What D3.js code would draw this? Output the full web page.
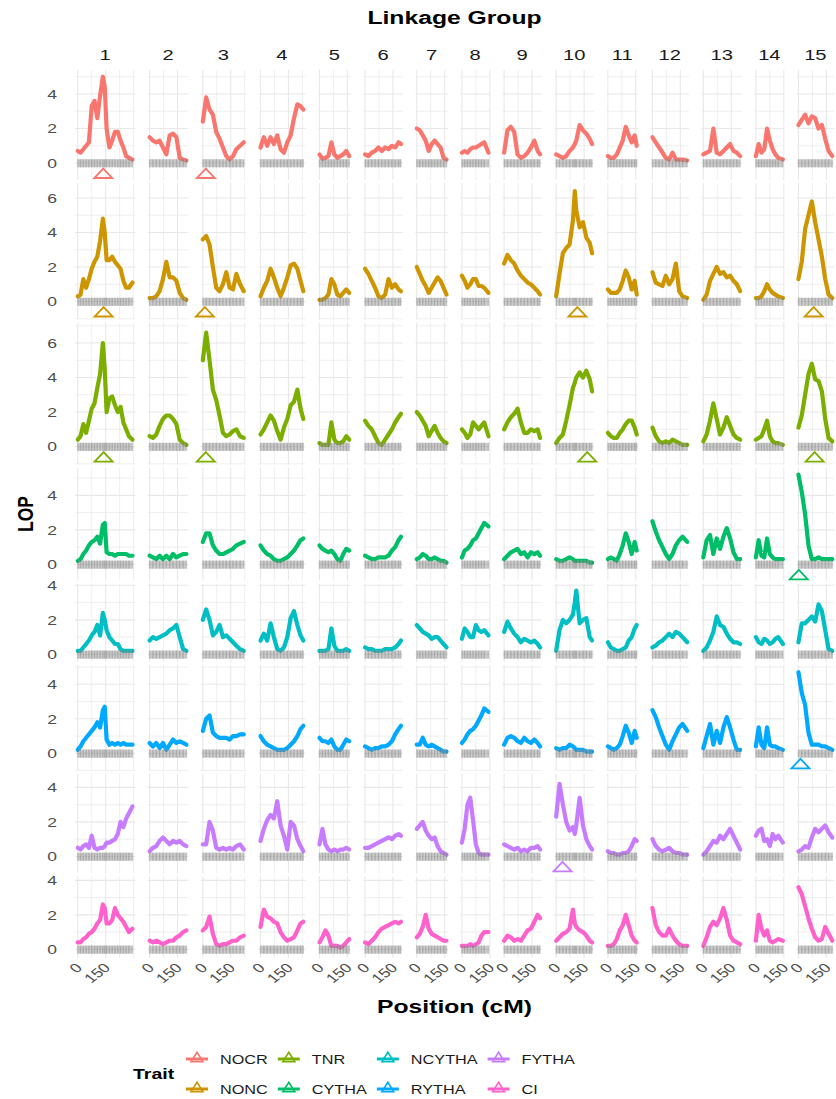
<!DOCTYPE html>
<html>
<head>
<meta charset="utf-8">
<script src="https://cdn.jsdelivr.net/npm/d3@7"></script>
<style>
  body { margin: 0; background: #fff; }
  text { font-family: "Liberation Sans", Arial, Helvetica, sans-serif; }
</style>
</head>
<body>
<svg id="chart" width="836" height="1099"></svg>
<script>
/* Data Setup */
const traits = ['NOCR', 'NONC', 'TNR', 'CYTHA', 'NCYTHA', 'RYTHA', 'FYTHA', 'CI'];
const traitColors = ['#F8766D', '#CD9600', '#7CAE00', '#00BE67', '#00BFC4', '#00A9FF', '#C77CFF', '#FF61CC'];
const lgNames = ['1', '2', '3', '4', '5', '6', '7', '8', '9', '10', '11', '12', '13', '14', '15'];
const lgLength = [294, 198, 220, 230, 160, 193, 160, 143, 193, 193, 155, 187, 198, 145, 182];

/* Marker positions (cM) per linkage group, shared by every trait */
const markerPos = [
    [0, 15, 30, 45, 60, 75, 90, 105, 120, 135, 145, 155, 170, 185, 200, 215, 230, 245, 260, 275, 294],
    [0, 18, 36, 54, 72, 90, 108, 126, 144, 162, 180, 198],
    [0, 18, 36, 54, 72, 90, 108, 126, 144, 162, 180, 200, 220],
    [0, 18, 36, 54, 72, 90, 108, 126, 144, 162, 180, 198, 215, 230],
    [0, 16, 32, 48, 64, 80, 96, 112, 128, 144, 160],
    [0, 18, 36, 54, 72, 90, 108, 126, 144, 162, 180, 193],
    [0, 16, 32, 48, 64, 80, 96, 112, 128, 144, 160],
    [0, 15, 30, 45, 60, 75, 90, 105, 120, 143],
    [0, 18, 36, 54, 72, 90, 108, 126, 144, 162, 180, 193],
    [0, 18, 36, 54, 72, 90, 100, 108, 126, 144, 162, 180, 193],
    [0, 16, 32, 48, 64, 80, 96, 112, 128, 144, 155],
    [0, 18, 36, 54, 72, 90, 108, 126, 144, 162, 187],
    [0, 18, 36, 54, 72, 90, 108, 126, 144, 162, 180, 198],
    [0, 15, 30, 45, 60, 75, 90, 105, 120, 145],
    [0, 18, 36, 54, 72, 90, 108, 126, 144, 162, 182]
];

/* LOP profiles, one list per linkage group */
const lodNOCR = [
    [0.7, 0.6, 0.8, 1.0, 1.2, 3.3, 3.6, 2.6, 3.9, 5.0, 4.4, 2.0, 0.9, 1.3, 1.8, 1.8, 1.3, 0.9, 0.4, 0.3, 0.2],
    [1.5, 1.3, 1.2, 1.3, 0.9, 0.5, 1.6, 1.7, 1.5, 0.3, 0.2, 0.15],
    [2.4, 3.8, 3.1, 2.8, 1.8, 1.4, 0.9, 0.4, 0.2, 0.4, 0.8, 1.0, 1.2],
    [0.9, 1.5, 1.0, 1.5, 1.1, 1.6, 0.8, 0.6, 1.2, 1.6, 2.6, 3.4, 3.3, 3.1],
    [0.5, 0.25, 0.3, 0.4, 1.2, 0.5, 0.3, 0.4, 0.5, 0.7, 0.4],
    [0.5, 0.4, 0.6, 0.7, 0.9, 0.7, 0.9, 0.8, 1.0, 0.9, 1.2, 1.1],
    [2.0, 1.9, 1.6, 1.3, 0.7, 1.1, 1.3, 1.1, 0.9, 0.3, 0.2],
    [0.6, 0.7, 0.6, 0.8, 0.9, 0.9, 1.0, 1.1, 1.2, 0.6],
    [0.6, 1.9, 2.1, 1.8, 0.5, 0.3, 0.4, 0.6, 0.9, 1.3, 0.7, 0.5],
    [0.5, 0.4, 0.3, 0.4, 0.7, 0.9, 1.1, 1.3, 2.2, 1.9, 1.7, 1.4, 1.1],
    [0.4, 0.3, 0.3, 0.5, 0.9, 1.3, 2.1, 1.6, 1.2, 1.6, 1.0],
    [1.5, 1.2, 0.9, 0.6, 0.3, 0.2, 0.6, 0.2, 0.2, 0.2, 0.15],
    [0.5, 0.6, 0.7, 2.0, 0.6, 0.5, 0.7, 0.9, 1.1, 0.7, 0.6, 0.4],
    [0.4, 1.1, 0.6, 0.8, 2.0, 1.3, 0.8, 0.5, 0.3, 0.2],
    [2.2, 2.5, 2.8, 2.3, 2.7, 2.6, 2.0, 2.2, 1.4, 0.7, 0.4]
];
const lodNONC = [
    [0.3, 0.4, 1.3, 0.8, 1.3, 1.9, 2.3, 2.6, 3.5, 4.8, 4.0, 2.4, 2.4, 2.6, 2.3, 2.1, 1.9, 1.2, 0.8, 0.8, 1.1],
    [0.2, 0.2, 0.3, 0.6, 1.3, 2.3, 1.4, 1.4, 1.2, 0.5, 0.2, 0.1],
    [3.6, 3.8, 3.3, 2.0, 0.8, 0.6, 1.0, 1.7, 0.8, 0.7, 1.6, 1.0, 0.6],
    [0.3, 0.8, 1.2, 1.9, 1.4, 0.8, 0.3, 0.8, 1.4, 2.1, 2.2, 1.9, 1.2, 0.6],
    [0.1, 0.1, 0.2, 0.4, 1.3, 1.0, 0.4, 0.3, 0.5, 0.7, 0.5],
    [1.9, 1.6, 1.2, 0.8, 0.3, 0.2, 0.4, 1.3, 0.8, 1.0, 0.7, 0.6],
    [2.0, 1.6, 1.2, 0.9, 0.5, 0.8, 1.1, 1.4, 1.2, 0.8, 0.4],
    [1.5, 1.2, 0.8, 1.0, 1.3, 1.3, 0.9, 0.9, 0.8, 0.5],
    [2.2, 2.7, 2.4, 2.2, 1.8, 1.5, 1.3, 1.1, 1.0, 0.8, 0.6, 0.4],
    [0.3, 1.6, 2.8, 3.1, 3.3, 4.7, 6.4, 5.3, 4.3, 4.6, 3.7, 3.4, 2.8],
    [0.7, 0.5, 0.5, 0.5, 0.7, 1.2, 1.8, 1.4, 0.7, 1.2, 0.4],
    [1.7, 1.1, 1.0, 0.9, 1.5, 1.0, 1.3, 2.2, 0.6, 0.3, 0.2],
    [0.1, 0.4, 1.2, 1.6, 2.0, 1.6, 1.7, 1.4, 1.5, 1.2, 1.0, 0.6],
    [0.2, 0.2, 0.3, 0.6, 1.0, 0.7, 0.5, 0.4, 0.3, 0.2],
    [1.3, 2.3, 4.2, 5.0, 5.8, 4.6, 3.6, 2.6, 1.3, 0.4, 0.2]
];
const lodTNR = [
    [0.4, 0.6, 1.3, 0.8, 1.5, 2.2, 2.5, 3.4, 4.2, 6.0, 4.5, 2.0, 2.8, 2.9, 2.4, 2.0, 2.3, 1.4, 1.0, 0.6, 0.4],
    [0.6, 0.5, 0.7, 1.2, 1.6, 1.8, 1.8, 1.6, 1.3, 0.4, 0.2, 0.1],
    [5.0, 6.6, 5.0, 3.3, 2.7, 1.8, 0.8, 0.6, 0.7, 0.9, 1.0, 0.6, 0.5],
    [0.7, 1.0, 1.4, 1.8, 1.5, 0.9, 0.4, 1.1, 1.6, 2.4, 2.6, 3.3, 2.2, 1.6],
    [0.2, 0.1, 0.1, 0.1, 1.4, 0.4, 0.2, 0.2, 0.3, 0.6, 0.4],
    [1.5, 1.2, 1.0, 0.6, 0.2, 0.1, 0.4, 0.7, 1.0, 1.4, 1.7, 1.9],
    [2.0, 1.8, 1.5, 1.2, 0.6, 0.9, 1.2, 0.8, 0.5, 0.3, 0.2],
    [1.0, 0.8, 0.5, 0.7, 1.4, 1.2, 1.0, 1.2, 1.4, 0.6],
    [1.0, 1.4, 1.7, 1.9, 2.2, 1.4, 0.8, 0.8, 1.0, 0.9, 1.0, 0.5],
    [0.2, 0.5, 0.7, 1.5, 2.4, 3.4, 3.7, 4.0, 4.3, 4.0, 4.4, 3.9, 3.2],
    [0.8, 0.6, 0.5, 0.5, 0.8, 1.0, 1.3, 1.5, 1.5, 1.1, 0.7],
    [1.1, 0.6, 0.3, 0.2, 0.3, 0.2, 0.4, 0.3, 0.2, 0.1, 0.1],
    [0.3, 0.7, 1.5, 2.5, 1.6, 0.7, 1.1, 1.7, 1.2, 0.7, 0.5, 0.4],
    [0.4, 0.5, 0.6, 1.0, 1.5, 0.6, 0.3, 0.2, 0.2, 0.1],
    [1.1, 1.8, 3.0, 4.2, 4.8, 3.9, 3.8, 3.2, 1.6, 0.5, 0.3]
];
const lodCYTHA = [
    [0.2, 0.3, 0.6, 0.8, 1.1, 1.3, 1.4, 1.6, 1.2, 2.3, 2.4, 0.7, 0.6, 0.6, 0.5, 0.6, 0.6, 0.6, 0.6, 0.5, 0.5],
    [0.5, 0.4, 0.3, 0.5, 0.3, 0.5, 0.3, 0.6, 0.4, 0.5, 0.6, 0.6],
    [1.3, 1.8, 1.8, 1.1, 0.8, 0.6, 0.6, 0.7, 0.8, 0.9, 1.1, 1.2, 1.3],
    [1.1, 0.8, 0.6, 0.5, 0.3, 0.2, 0.2, 0.3, 0.4, 0.6, 0.8, 1.1, 1.4, 1.5],
    [1.1, 0.9, 0.8, 0.7, 0.8, 0.6, 0.3, 0.2, 0.6, 0.9, 0.8],
    [0.5, 0.4, 0.3, 0.3, 0.4, 0.4, 0.4, 0.5, 0.8, 1.0, 1.4, 1.6],
    [0.3, 0.4, 0.6, 0.5, 0.3, 0.3, 0.4, 0.3, 0.2, 0.2, 0.1],
    [0.4, 0.8, 0.9, 1.1, 1.4, 1.5, 1.8, 2.1, 2.4, 2.2],
    [0.3, 0.5, 0.7, 0.8, 0.9, 0.6, 0.7, 0.4, 0.7, 0.6, 0.7, 0.5],
    [0.3, 0.2, 0.2, 0.3, 0.4, 0.3, 0.2, 0.2, 0.2, 0.2, 0.2, 0.1, 0.1],
    [0.3, 0.4, 0.3, 0.2, 0.6, 1.1, 1.8, 1.3, 0.6, 1.3, 0.8],
    [2.5, 1.9, 1.4, 1.0, 0.6, 0.3, 0.6, 1.1, 1.4, 1.6, 1.3],
    [0.4, 1.4, 1.7, 0.6, 1.5, 0.9, 1.6, 2.1, 1.5, 0.7, 0.3, 0.3],
    [0.4, 1.4, 0.5, 0.4, 1.5, 0.6, 0.4, 0.3, 0.3, 0.3],
    [5.2, 4.2, 2.9, 1.1, 0.3, 0.3, 0.4, 0.3, 0.3, 0.3, 0.3]
];
const lodNCYTHA = [
    [0.2, 0.2, 0.4, 0.6, 0.8, 1.1, 1.3, 1.7, 1.1, 2.4, 2.0, 1.4, 1.0, 0.8, 0.6, 0.6, 0.3, 0.2, 0.2, 0.2, 0.2],
    [0.8, 1.0, 0.9, 1.0, 1.1, 1.2, 1.4, 1.5, 1.7, 1.0, 0.3, 0.2],
    [2.0, 2.6, 2.0, 1.1, 1.3, 1.7, 1.0, 1.1, 0.9, 0.7, 0.5, 0.3, 0.2],
    [0.8, 1.2, 0.8, 1.8, 1.0, 0.3, 0.2, 0.4, 1.0, 2.1, 2.5, 1.7, 1.1, 0.8],
    [0.2, 0.2, 0.2, 0.3, 1.5, 0.5, 0.2, 0.2, 0.2, 0.3, 0.2],
    [0.4, 0.3, 0.3, 0.2, 0.2, 0.2, 0.3, 0.3, 0.3, 0.4, 0.6, 0.8],
    [1.7, 1.5, 1.3, 1.2, 1.1, 0.9, 1.0, 1.0, 0.8, 0.6, 0.4],
    [0.9, 1.5, 1.3, 1.0, 1.0, 1.7, 1.4, 1.3, 1.4, 1.1],
    [1.3, 1.9, 1.5, 1.2, 1.0, 0.7, 0.9, 0.8, 0.7, 0.8, 0.6, 0.4],
    [0.2, 1.4, 2.0, 1.8, 2.0, 2.3, 3.0, 3.7, 1.8, 2.0, 2.1, 1.0, 0.8],
    [0.7, 0.4, 0.3, 0.2, 0.2, 0.3, 0.4, 0.8, 1.0, 1.5, 1.7],
    [0.4, 0.5, 0.7, 0.8, 1.0, 1.2, 1.0, 1.3, 1.2, 1.0, 0.7],
    [0.2, 0.4, 0.8, 1.3, 2.2, 1.7, 1.6, 1.2, 0.9, 0.7, 0.7, 0.6],
    [1.0, 0.7, 0.6, 0.9, 0.8, 0.6, 0.7, 0.9, 1.0, 0.6],
    [0.7, 1.8, 1.8, 2.0, 2.2, 1.9, 2.9, 2.5, 1.4, 0.3, 0.2]
];
const lodRYTHA = [
    [0.2, 0.4, 0.7, 0.9, 1.1, 1.3, 1.5, 1.8, 1.5, 2.5, 2.7, 0.8, 0.5, 0.6, 0.5, 0.6, 0.5, 0.6, 0.5, 0.5, 0.5],
    [0.6, 0.4, 0.6, 0.3, 0.6, 0.2, 0.5, 0.8, 0.6, 0.7, 0.6, 0.5],
    [1.3, 2.0, 2.2, 1.2, 1.0, 0.9, 0.9, 0.9, 0.8, 1.0, 1.0, 1.1, 1.1],
    [1.0, 0.7, 0.5, 0.4, 0.3, 0.2, 0.2, 0.2, 0.3, 0.5, 0.7, 1.0, 1.4, 1.6],
    [0.9, 0.7, 0.7, 0.6, 0.8, 0.4, 0.2, 0.2, 0.5, 0.8, 0.7],
    [0.4, 0.3, 0.2, 0.3, 0.3, 0.4, 0.4, 0.5, 0.7, 1.1, 1.4, 1.6],
    [0.5, 0.5, 0.9, 0.5, 0.4, 0.5, 0.4, 0.3, 0.2, 0.1, 0.1],
    [0.6, 0.8, 1.1, 1.3, 1.4, 1.6, 1.9, 2.2, 2.6, 2.4],
    [0.5, 0.9, 1.0, 0.9, 0.7, 0.6, 0.9, 0.7, 0.6, 0.8, 0.6, 0.4],
    [0.3, 0.2, 0.3, 0.3, 0.5, 0.4, 0.3, 0.2, 0.2, 0.2, 0.1, 0.1, 0.1],
    [0.4, 0.3, 0.2, 0.3, 0.5, 1.0, 1.6, 1.2, 0.6, 1.3, 0.9],
    [2.5, 2.1, 1.5, 1.0, 0.5, 0.2, 0.7, 1.1, 1.5, 1.7, 1.3],
    [0.3, 1.0, 1.7, 0.5, 1.3, 0.6, 1.5, 2.1, 1.5, 0.8, 0.2, 0.2],
    [0.4, 1.5, 0.5, 0.3, 1.5, 0.5, 0.4, 0.4, 0.3, 0.2],
    [4.7, 3.5, 2.8, 1.2, 0.5, 0.5, 0.5, 0.4, 0.4, 0.3, 0.2]
];
const lodFYTHA = [
    [0.5, 0.4, 0.6, 0.7, 0.5, 1.2, 0.5, 0.4, 0.5, 0.5, 0.6, 0.8, 0.8, 0.9, 1.0, 1.3, 2.0, 1.7, 2.2, 2.5, 2.9],
    [0.3, 0.5, 0.6, 0.9, 1.1, 0.9, 0.7, 0.9, 0.8, 0.9, 0.7, 0.6],
    [0.7, 0.7, 2.0, 1.5, 0.5, 0.4, 0.5, 0.4, 0.5, 0.4, 0.6, 0.7, 0.4],
    [0.9, 1.6, 2.1, 2.4, 2.2, 3.2, 1.8, 1.2, 0.4, 2.0, 1.8, 1.0, 0.6, 0.3],
    [0.7, 1.6, 0.7, 0.4, 0.3, 0.4, 0.3, 0.4, 0.4, 0.5, 0.4],
    [0.5, 0.5, 0.6, 0.7, 0.8, 0.9, 1.0, 1.1, 1.0, 1.2, 1.3, 1.2],
    [1.6, 1.8, 2.0, 1.5, 1.2, 1.0, 1.1, 0.6, 0.3, 0.2, 0.1],
    [0.8, 1.6, 3.0, 3.4, 2.1, 0.7, 0.2, 0.1, 0.1, 0.1],
    [0.7, 0.6, 0.5, 0.4, 0.5, 0.3, 0.4, 0.3, 0.5, 0.5, 0.6, 0.4],
    [2.3, 4.2, 3.0, 2.0, 1.5, 1.7, 1.3, 1.8, 3.4, 1.8, 1.0, 0.6, 0.4],
    [0.3, 0.2, 0.2, 0.1, 0.1, 0.2, 0.2, 0.3, 0.6, 1.0, 0.9],
    [1.0, 0.6, 0.4, 0.3, 0.4, 0.5, 0.3, 0.2, 0.2, 0.1, 0.1],
    [0.1, 0.3, 0.6, 0.9, 0.8, 1.2, 1.0, 1.3, 1.6, 1.2, 0.8, 0.4],
    [1.2, 1.5, 1.6, 0.9, 1.0, 0.6, 1.3, 1.0, 1.2, 0.8],
    [0.3, 0.4, 0.6, 0.5, 1.1, 1.6, 1.4, 1.6, 1.8, 1.4, 1.1]
];
const lodCI = [
    [0.4, 0.4, 0.6, 0.7, 0.9, 1.0, 1.2, 1.5, 1.7, 2.6, 2.4, 1.5, 1.5, 1.7, 2.4, 2.0, 1.8, 1.6, 1.3, 1.0, 1.2],
    [0.5, 0.4, 0.5, 0.4, 0.3, 0.4, 0.5, 0.5, 0.7, 0.8, 1.0, 1.1],
    [1.1, 1.3, 1.9, 0.9, 0.3, 0.2, 0.3, 0.3, 0.4, 0.5, 0.5, 0.7, 0.8],
    [1.3, 2.3, 1.9, 1.8, 1.6, 1.5, 1.0, 0.7, 0.5, 0.6, 0.7, 1.1, 1.5, 1.6],
    [0.4, 0.7, 1.1, 0.8, 0.2, 0.2, 0.2, 0.1, 0.2, 0.4, 0.6],
    [0.4, 0.3, 0.5, 0.7, 1.0, 1.2, 1.3, 1.4, 1.5, 1.6, 1.5, 1.6],
    [0.7, 0.9, 1.3, 2.0, 1.2, 0.9, 0.8, 0.7, 0.6, 0.5, 0.5],
    [0.2, 0.2, 0.2, 0.3, 0.2, 0.3, 0.4, 0.8, 1.0, 1.0],
    [0.5, 0.8, 0.7, 0.5, 0.6, 0.5, 0.8, 1.1, 1.2, 1.6, 2.0, 1.8],
    [0.5, 0.7, 0.9, 1.0, 1.2, 2.3, 1.5, 1.3, 1.1, 1.0, 0.8, 0.5, 0.4],
    [0.2, 0.2, 0.3, 0.6, 1.1, 1.4, 2.0, 1.4, 0.8, 0.5, 0.4],
    [2.4, 1.4, 1.0, 0.8, 0.8, 1.2, 0.8, 0.5, 0.3, 0.2, 0.2],
    [0.2, 0.7, 1.3, 1.6, 1.4, 1.8, 2.4, 1.7, 0.8, 0.5, 0.4, 0.3],
    [0.5, 2.0, 1.2, 0.8, 1.1, 0.5, 0.4, 0.5, 0.6, 0.5],
    [3.6, 3.2, 2.5, 1.8, 1.2, 0.7, 0.5, 0.6, 1.3, 0.9, 0.5]
];

/* QTL peaks as [linkage group, position cM] */
const qtlNOCR = [[1, 137], [3, 16]];
const qtlNONC = [[1, 139], [3, 11], [10, 114], [15, 82]];
const qtlTNR = [[1, 139], [3, 16], [10, 167], [15, 87]];
const qtlCYTHA = [[15, 2]];
const qtlNCYTHA = [];
const qtlRYTHA = [[15, 11]];
const qtlFYTHA = [[10, 34]];
const qtlCI = [];
const qtlLevel = -0.62;

/* Axis settings */
const yLimits = [[-0.99, 5.39], [-1.03, 6.86], [-1.05, 7.2], [-0.95, 5.6], [-0.45, 4.09], [-1.0, 5.11], [-0.98, 4.8], [-0.5, 4.23]];
const yTicks = [0, 2, 4, 6];
const yGrid = [-1, 0, 1, 2, 3, 4, 5, 6, 7];
const xTicks = [0, 150];
const xGrid = [0, 75, 150, 225, 300];

const lodByTrait = [lodNOCR, lodNONC, lodTNR, lodCYTHA, lodNCYTHA, lodRYTHA, lodFYTHA, lodCI];
const qtlByTrait = [qtlNOCR, qtlNONC, qtlTNR, qtlCYTHA, qtlNCYTHA, qtlRYTHA, qtlFYTHA, qtlCI];


/* Layout */
const plotLeft = 75, plotRight = 834, plotTop = 70, plotBottom = 958;
const gapX = 12.5, gapY = 3;
const expand = 0.05;
const sx = 1.3; /* the figure is horizontally stretched, text too */

const svg = d3.select("#chart");

/* One x scale per linkage group, widths follow group length */
const spans = lgLength.map(L => L * (1 + 2 * expand));
const kx = (plotRight - plotLeft - gapX * (lgLength.length - 1)) / d3.sum(spans);
let cursorX = plotLeft;
const xScales = lgLength.map((L, j) => {
    const s = d3.scaleLinear()
        .domain([-expand * L, (1 + expand) * L])
        .range([cursorX, cursorX + spans[j] * kx]);
    cursorX += spans[j] * kx + gapX;
    return s;
});

/* One y scale per trait row, heights follow the LOP range */
const ky = (plotBottom - plotTop - gapY * (traits.length - 1)) / d3.sum(yLimits, d => d[1] - d[0]);
let cursorY = plotTop;
const yScales = yLimits.map(d => {
    const h = (d[1] - d[0]) * ky;
    const s = d3.scaleLinear().domain(d).range([cursorY + h, cursorY]);
    cursorY += h + gapY;
    return s;
});

const inside = (v, dom) => v >= dom[0] && v <= dom[1];

/* Text helper, stretched like the original picture */
function addText(parent, x, y, str, rot) {
    return parent.append("text")
        .attr("transform", `translate(${x},${y}) scale(${sx},1)` + (rot ? ` rotate(${rot})` : ""))
        .text(str);
}

/* Grid lines */
const grid = svg.append("g");
yScales.forEach((y, i) => {
    xScales.forEach((x, j) => {
        const [x0, x1] = x.range();
        const [y1, y0] = y.range();
        xGrid.filter(v => inside(v, x.domain())).forEach(v => {
            grid.append("line")
                .attr("x1", x(v)).attr("x2", x(v))
                .attr("y1", y0).attr("y2", y1)
                .attr("stroke", "#e8e8e8")
                .attr("stroke-width", xTicks.includes(v) ? 1.1 : 0.7);
        });
        yGrid.filter(v => inside(v, y.domain())).forEach(v => {
            grid.append("line")
                .attr("x1", x0).attr("x2", x1)
                .attr("y1", y(v)).attr("y2", y(v))
                .attr("stroke", "#e8e8e8")
                .attr("stroke-width", v % 2 === 0 ? 1.1 : 0.7);
        });
    });
});

/* LOP profile lines */
const lines = svg.append("g");
traits.forEach((t, i) => {
    lgLength.forEach((L, j) => {
        const pts = markerPos[j].map((p, k) => [p, lodByTrait[i][j][k]]);
        const lineGen = d3.line()
            .x(d => xScales[j](d[0]))
            .y(d => yScales[i](d[1]));
        lines.append("path")
            .datum(pts)
            .attr("d", lineGen)
            .attr("fill", "none")
            .attr("stroke", traitColors[i])
            .attr("stroke-width", 4.2)
            .attr("stroke-linejoin", "round")
            .attr("stroke-linecap", "round");
    });
});

/* Marker rug along zero */
const rug = svg.append("g");
yScales.forEach((y, i) => {
    xScales.forEach((x, j) => {
        rug.append("rect")
            .attr("x", x(0)).attr("width", x(lgLength[j]) - x(0))
            .attr("y", y(0.22)).attr("height", y(-0.25) - y(0.22))
            .attr("fill", "#9a9a9a").attr("opacity", 0.5);
        rug.selectAll(null)
            .data(markerPos[j])
            .join("line")
            .attr("x1", d => x(d)).attr("x2", d => x(d))
            .attr("y1", y(0.22)).attr("y2", y(-0.25))
            .attr("stroke", "#444").attr("stroke-opacity", 0.22)
            .attr("stroke-width", 1.4);
    });
});

/* QTL triangles */
const tri = (cx, cy, w, h) => `M${cx},${cy - h * 0.55}L${cx + w / 2},${cy + h * 0.45}L${cx - w / 2},${cy + h * 0.45}Z`;
const marks = svg.append("g");
qtlByTrait.forEach((list, i) => {
    marks.selectAll(null)
        .data(list)
        .join("path")
        .attr("d", d => tri(xScales[d[0] - 1](d[1]), yScales[i](qtlLevel), 18, 9.5))
        .attr("fill", "none")
        .attr("stroke", traitColors[i])
        .attr("stroke-width", 1.8);
});

/* Strip labels (linkage groups) */
const strips = svg.append("g")
    .attr("font-size", 15.5)
    .attr("fill", "#1a1a1a")
    .attr("text-anchor", "middle");
xScales.forEach((x, j) => {
    const r = x.range();
    addText(strips, (r[0] + r[1]) / 2, 60, lgNames[j]);
});

/* Y tick labels */
const yAxisG = svg.append("g")
    .attr("font-size", 13.5)
    .attr("fill", "#4d4d4d")
    .attr("text-anchor", "end");
yScales.forEach(y => {
    yTicks.filter(v => inside(v, y.domain())).forEach(v => {
        addText(yAxisG, 57, y(v), v).attr("dy", "0.36em");
    });
});

/* X tick labels, rotated */
const xAxisG = svg.append("g")
    .attr("font-size", 13)
    .attr("fill", "#4d4d4d")
    .attr("text-anchor", "end");
xScales.forEach(x => {
    xTicks.filter(v => inside(v, x.domain())).forEach(v => {
        addText(xAxisG, x(v) - 3, 962, v, -45).attr("dy", "0.71em");
    });
});

/* Titles */
const titles = svg.append("g")
    .attr("font-weight", "bold")
    .attr("fill", "#000")
    .attr("text-anchor", "middle");
addText(titles, (plotLeft + plotRight) / 2, 24, "Linkage Group").attr("font-size", 19);
addText(titles, (plotLeft + plotRight) / 2, 1013, "Position (cM)").attr("font-size", 19);
addText(titles, 33, (plotTop + plotBottom) / 2, "LOP", -90).attr("font-size", 17.5);

/* Legend */
const legend = svg.append("g");
addText(legend, 133, 1074, "Trait")
    .attr("font-size", 15)
    .attr("font-weight", "bold")
    .attr("dy", "0.36em");

const legendRows = [1059, 1089];
let keyLeft = 186;
for (let c = 0; c < traits.length / 2; c++) {
    let maxW = 0;
    for (let r = 0; r < 2; r++) {
        const i = c * 2 + r;
        const cy = legendRows[r];
        legend.append("line")
            .attr("x1", keyLeft).attr("x2", keyLeft + 22)
            .attr("y1", cy).attr("y2", cy)
            .attr("stroke", traitColors[i]).attr("stroke-width", 3);
        legend.append("path")
            .attr("d", tri(keyLeft + 11, cy - 1.5, 12, 9.5))
            .attr("fill", "none")
            .attr("stroke", traitColors[i])
            .attr("stroke-width", 1.6);
        const t = addText(legend, keyLeft + 34, cy, traits[i])
            .attr("font-size", 12.5)
            .attr("fill", "#1a1a1a")
            .attr("dy", "0.36em");
        maxW = Math.max(maxW, t.node().getComputedTextLength() * sx);
    }
    keyLeft += 34 + maxW + 10;
}
</script>
</body>
</html>
